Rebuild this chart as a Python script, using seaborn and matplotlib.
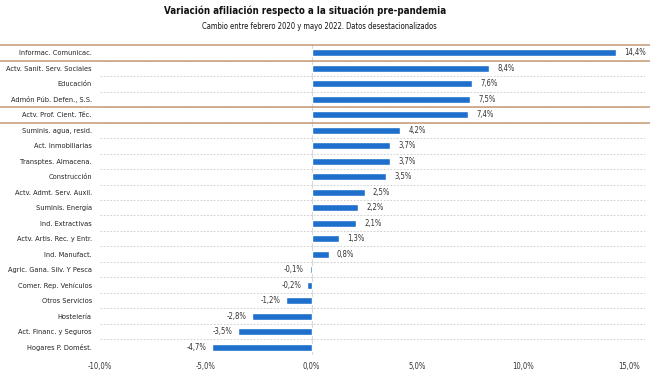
import matplotlib
matplotlib.use("Agg")
import matplotlib.pyplot as plt
import matplotlib.transforms as mtransforms
from matplotlib import font_manager as fm
import seaborn as sns
import pandas as pd

sectors = [
    "Informac. Comunicac.", "Actv. Sanit. Serv. Sociales", "Educación",
    "Admón Púb. Defen., S.S.", "Actv. Prof. Cient. Téc.", "Suminis. agua, resid.",
    "Act. Inmobiliarias", "Transptes. Almacena.", "Construcción",
    "Actv. Admt. Serv. Auxil.", "Suminis. Energía", "Ind. Extractivas",
    "Actv. Artis. Rec. y Entr.", "Ind. Manufact.", "Agric. Gana. Silv. Y Pesca",
    "Comer. Rep. Vehículos", "Otros Servicios", "Hostelería",
    "Act. Financ. y Seguros", "Hogares P. Domést.",
]
change = [14.4, 8.4, 7.6, 7.5, 7.4, 4.2, 3.7, 3.7, 3.5, 2.5,
          2.2, 2.1, 1.3, 0.8, -0.1, -0.2, -1.2, -2.8, -3.5, -4.7]
highlight = [0, 4]
xticks = [-10, -5, 0, 5, 10, 15]

df = pd.DataFrame({"sector": sectors, "change": change})

sns.set_style("white")
# narrow font if available (reference uses a condensed face)
names = {f.name for f in fm.fontManager.ttflist}
if "Liberation Sans Narrow" in names:
    plt.rcParams["font.family"] = ["Liberation Sans Narrow", "DejaVu Sans"]
    big = 7.6
else:
    plt.rcParams["font.family"] = ["DejaVu Sans"]
    plt.rcParams["font.stretch"] = "condensed"
    big = 7.0

fig = plt.figure(figsize=(6.5, 3.77), dpi=100)
ax = fig.add_axes([0.154, 0.059, 0.838, 0.821])

sns.barplot(data=df, x="change", y="sector", orient="h", color="#1f6fcc",
            width=0.45, saturation=1, ax=ax)

ax.set_xlim(-10, 15.75)
ax.set_ylim(len(sectors) - 0.5, -0.5)

# dotted separators between rows
for i in range(len(sectors)):
    ax.axhline(i + 0.5, color="#c8c8c8", lw=0.6, ls=(0, (2, 2)), zorder=0)
ax.axvline(0, color="#d9d9d9", lw=0.8, zorder=0)

# highlight rows with brown lines across the whole figure
trans = mtransforms.blended_transform_factory(fig.transFigure, ax.transData)
for i in highlight:
    for yy in (i - 0.5, i + 0.5):
        ax.plot([0, 1], [yy, yy], transform=trans, color="#c49a78", lw=1.1,
                clip_on=False, zorder=3)

for i, v in enumerate(change):
    lab = f"{v:.1f}%".replace(".", ",")
    if v >= 0:
        ax.annotate(lab, (v, i), xytext=(6, 0), textcoords="offset points",
                    ha="left", va="center", fontsize=5.5, color="#333333")
    else:
        ax.annotate(lab, (v, i), xytext=(-4, 0), textcoords="offset points",
                    ha="right", va="center", fontsize=5.5, color="#333333")

ax.set_xticks(xticks)
ax.set_xticklabels([f"{t:.1f}%".replace(".", ",") for t in xticks],
                   fontsize=5.5, color="#333333")
ax.tick_params(axis="y", labelsize=5.3, colors="#222222", length=0, pad=6)
ax.tick_params(axis="x", length=0, pad=5)
ax.set_xlabel("")
ax.set_ylabel("")
sns.despine(ax=ax, left=True, bottom=True)

fig.text(0.469, 0.972, "Variación afiliación respecto a la situación pre-pandemia",
         ha="center", va="center", fontsize=big, fontweight="bold", color="#111111")
fig.text(0.492, 0.93, "Cambio entre febrero 2020 y mayo 2022. Datos desestacionalizados",
         ha="center", va="center", fontsize=big - 1.5, color="#111111")

fig.savefig("out.png", dpi=100)
